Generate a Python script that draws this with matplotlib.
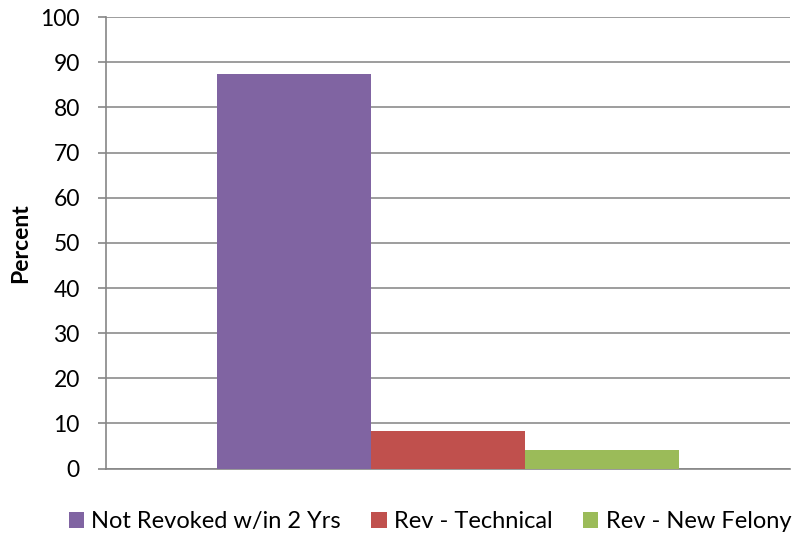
import matplotlib.pyplot as plt

labels = ['Not Revoked w/in 2 Yrs', 'Rev - Technical', 'Rev - New Felony']
values = [87.5, 8.3, 4.1]
colors = ['#8064A2', '#C0504D', '#9BBB59']

plt.rcParams['font.family'] = ['Lato', 'DejaVu Sans']

fig = plt.figure(figsize=(7.93, 5.38), dpi=100)
ax = fig.add_axes([0.134, 0.129, 0.862, 0.839])

w = 0.225
offsets = [-w, 0, w]
for off, v, c, lab in zip(offsets, values, colors, labels):
    ax.bar(off, v, width=w, color=c, label=lab, zorder=3)

ax.set_xlim(-0.5, 0.5)
ax.set_ylim(0, 100)
ax.set_yticks(range(0, 101, 10))
ax.set_xticks([])
ax.yaxis.grid(True, color='#8c8c8c', linewidth=1.2, zorder=0)
for s in ['top', 'right']:
    ax.spines[s].set_visible(False)
for s in ['left', 'bottom']:
    ax.spines[s].set_color('#868686')
    ax.spines[s].set_linewidth(1.2)
ax.tick_params(axis='y', length=6, color='#868686', width=1.2, labelsize=16.5, pad=13)
ax.set_ylabel('Percent', fontsize=16.5, fontweight='bold', labelpad=7)

fig.legend(*ax.get_legend_handles_labels(), loc='center', bbox_to_anchor=(0.542, 0.03),
           ncol=3, frameon=False, fontsize=17, handlelength=0.65, handleheight=0.65,
           handletextpad=0.3, columnspacing=1.3, borderaxespad=0, borderpad=0)

fig.savefig('out.png', dpi=100)
